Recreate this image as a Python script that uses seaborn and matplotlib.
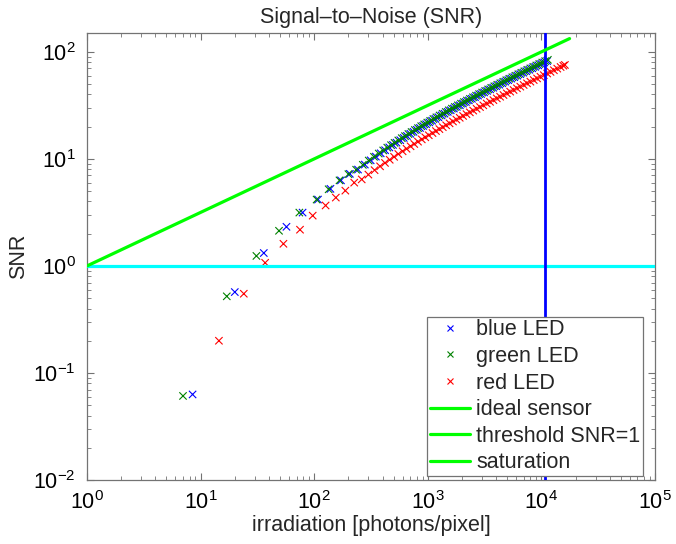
import matplotlib
matplotlib.use("Agg")
import matplotlib.pyplot as plt
from matplotlib.lines import Line2D
import seaborn as sns
import pandas as pd

# ---- data ----
blue_x = [8.5, 20, 36, 57, 79, 108, 139, 172, 206, 243, 279, 314, 349, 385, 421, 458, 494, 530, 572,
          614, 655, 702, 749, 801, 853, 910, 967, 1030, 1092, 1165, 1238, 1321, 1404, 1498, 1591, 1695,
          1799, 1914, 2038, 2163, 2298, 2444, 2600, 2766, 2943, 3130, 3328, 3536, 3765, 4004, 4254,
          4524, 4805, 5106, 5429, 5772, 6136, 6521, 6926, 7363, 7821, 8310, 8830, 9381, 9963, 10587, 11232]
blue_snr = [0.063, 0.57, 1.32, 2.32, 3.15, 4.17, 5.25, 6.3, 7.25, 7.95, 8.85, 9.70, 10.50, 11.28, 12.05,
            12.80, 13.50, 14.18, 14.95, 15.70, 16.38, 17.15, 17.90, 18.70, 19.45, 20.30, 21.08, 21.92,
            22.72, 23.65, 24.52, 25.50, 26.45, 27.50, 28.48, 29.55, 30.60, 31.70, 32.86, 34.00, 35.18,
            36.42, 37.70, 39.02, 40.38, 41.78, 43.20, 44.66, 46.20, 47.78, 49.35, 51.00, 52.68, 54.40,
            56.20, 58.05, 59.95, 61.90, 63.88, 65.95, 68.05, 70.22, 72.48, 74.78, 77.15, 79.60, 82.05]

green_x = [7, 17, 31, 49, 74, 105, 134, 167, 200, 234, 268, 302, 336, 370, 405, 440, 475, 510, 550, 590,
           630, 675, 720, 770, 820, 875, 930, 990, 1050, 1120, 1190, 1270, 1350, 1440, 1530, 1630, 1730,
           1840, 1960, 2080, 2210, 2350, 2500, 2660, 2830, 3010, 3200, 3400, 3620, 3850, 4090, 4350,
           4620, 4910, 5220, 5550, 5900, 6270, 6660, 7080, 7520, 7990, 8490, 9020, 9580, 10180, 10800, 11400]
green_snr = [0.061, 0.52, 1.24, 2.13, 3.15, 4.17, 5.2, 6.3, 7.2, 7.92, 8.80, 9.65, 10.46, 11.22, 11.99,
             12.73, 13.43, 14.11, 14.87, 15.61, 16.31, 17.07, 17.82, 18.61, 19.38, 20.21, 21.00, 21.83,
             22.65, 23.56, 24.45, 25.43, 26.38, 27.42, 28.41, 29.49, 30.53, 31.63, 32.80, 33.93, 35.10,
             36.35, 37.63, 38.95, 40.30, 41.69, 43.11, 44.56, 46.10, 47.67, 49.24, 50.89, 52.55, 54.28,
             56.07, 57.92, 59.81, 61.76, 63.74, 65.81, 67.91, 70.09, 72.33, 74.63, 77.00, 79.44, 81.90, 84.22]

red_x = [14.5, 24, 37, 53.6, 75, 97, 126, 155, 188, 225, 262, 300, 340, 380, 420, 462, 505, 550, 600,
         650, 705, 760, 820, 885, 950, 1020, 1100, 1180, 1265, 1355, 1450, 1555, 1665, 1785, 1910, 2045,
         2190, 2345, 2510, 2690, 2880, 3080, 3300, 3530, 3780, 4050, 4330, 4640, 4960, 5310, 5690, 6090,
         6520, 6980, 7470, 8000, 8560, 9160, 9810, 10500, 11240, 12030, 12880, 13790, 14760, 15600, 16100]
red_snr = [0.20, 0.55, 1.07, 1.61, 2.18, 2.95, 3.67, 4.35, 5.05, 6.0, 6.43, 7.13, 7.85, 8.52, 9.17, 9.81,
           10.45, 11.10, 11.78, 12.43, 13.12, 13.78, 14.48, 15.21, 15.91, 16.63, 17.43, 18.20, 18.98,
           19.79, 20.61, 21.48, 22.35, 23.28, 24.21, 25.18, 26.17, 27.20, 28.26, 29.37, 30.50, 31.65,
           32.88, 34.11, 35.40, 36.74, 38.08, 39.51, 40.95, 42.46, 44.03, 45.65, 47.31, 49.03, 50.80,
           52.64, 54.52, 56.47, 58.51, 60.60, 62.77, 64.99, 67.32, 69.71, 72.17, 74.25, 75.45]

ideal_x = [1, 17700]
ideal_snr = [1, 133]
threshold_snr = 1
saturation_x = 10700

series_names = ["blue LED", "green LED", "red LED"]
legend_labels = ["blue LED", "green LED", "red LED", "ideal sensor", "threshold SNR=1", "saturation"]

# ---- build table ----
df = pd.concat([
    pd.DataFrame({"x": blue_x, "snr": blue_snr, "LED": series_names[0]}),
    pd.DataFrame({"x": green_x, "snr": green_snr, "LED": series_names[1]}),
    pd.DataFrame({"x": red_x, "snr": red_snr, "LED": series_names[2]}),
], ignore_index=True)

palette = {"blue LED": (0, 0, 1), "green LED": (0, 0.5, 0), "red LED": (1, 0, 0)}
line_green = (0, 1, 0)

sns.set_style("ticks")
plt.rcParams["font.family"] = ["Liberation Sans", "DejaVu Sans"]
plt.rcParams["mathtext.fontset"] = "custom"
plt.rcParams["mathtext.rm"] = "Liberation Sans"
plt.rcParams["mathtext.it"] = "Liberation Sans:italic"

FS = 15.5

fig = plt.figure(figsize=(6.76, 5.44), dpi=100)
ax = fig.add_axes([87 / 676, 64 / 544, 568 / 676, 447 / 544])

sns.scatterplot(data=df, x="x", y="snr", hue="LED", palette=palette, marker="x",
                s=28, linewidth=0.8, legend=False, ax=ax, zorder=2)

ax.set_xscale("log")
ax.set_yscale("log")

ax.plot(ideal_x, ideal_snr, color=line_green, lw=2.3, zorder=4)
ax.axhline(threshold_snr, color=(0, 1, 1), lw=2.3, zorder=3)
ax.axvline(saturation_x, color=(0, 0, 1), lw=2.0, zorder=3)

ax.set_xlim(1, 1e5)
ax.set_ylim(0.01, 150)

ax.set_title("Signal\u2013to\u2013Noise (SNR)", fontsize=FS, pad=7)
ax.set_xlabel("irradiation [photons/pixel]", fontsize=FS, labelpad=1)
ax.set_ylabel("SNR", fontsize=FS, labelpad=3)

grey = "0.45"
for sp in ax.spines.values():
    sp.set_visible(True)
    sp.set_color(grey)
    sp.set_linewidth(0.9)
ax.tick_params(which="both", direction="in", top=True, right=True, color=grey,
               labelsize=FS, labelcolor="black")
ax.tick_params(which="major", length=5, width=0.8, pad=8)
ax.tick_params(which="minor", length=3, width=0.6)

handles = [Line2D([], [], marker="x", linestyle="None", color=palette[n], markersize=4,
                  markeredgewidth=0.8) for n in series_names]
handles += [Line2D([], [], color=line_green, lw=2.3) for _ in range(3)]
leg = ax.legend(handles, legend_labels, loc="lower left", bbox_to_anchor=(0.599, 0.009),
                fontsize=FS, frameon=True, fancybox=False, framealpha=1,
                edgecolor=grey, handlelength=1.85, handletextpad=0.3, labelspacing=0.26,
                borderpad=0.12, borderaxespad=0)
leg.get_frame().set_linewidth(0.9)

fig.savefig("out.png", dpi=100)
